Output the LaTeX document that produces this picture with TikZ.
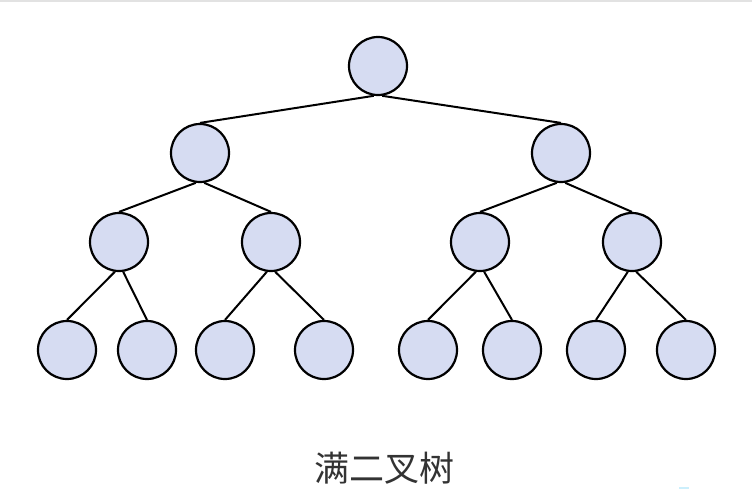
\documentclass[tikz,border=0pt]{standalone}
\usepackage{fontspec}
\newfontfamily\cjk{Noto Sans CJK SC}
\definecolor{nodefill}{RGB}{214,220,242}
\definecolor{txtgray}{RGB}{51,51,51}
\definecolor{topline}{RGB}{226,226,226}
\begin{document}
\begin{tikzpicture}[x=1pt,y=-1pt,
  tn/.style={circle,draw=black,line width=2.2pt,fill=nodefill,minimum size=58pt,inner sep=0pt},
  ed/.style={line width=2pt,black}]
\fill[white] (0,0) rectangle (752,491);
\useasboundingbox (0,0) rectangle (752,491);
\fill[topline] (0,0) rectangle (752,2);
% edges drawn first, nodes on top
\path (378,66) coordinate (pr);
% level 1
\node[tn] (r) at (378,66) {};
% level 2
\node[tn] (a) at (200,153) {};
\node[tn] (b) at (561,153) {};
% level 3
\node[tn] (a1) at (119,242) {};
\node[tn] (a2) at (271,242) {};
\node[tn] (b1) at (480,242) {};
\node[tn] (b2) at (632,242) {};
% level 4
\node[tn] (c1) at (67,350) {};
\node[tn] (c2) at (147,350) {};
\node[tn] (c3) at (225,350) {};
\node[tn] (c4) at (324,350) {};
\node[tn] (c5) at (428,350) {};
\node[tn] (c6) at (512,350) {};
\node[tn] (c7) at (596,350) {};
\node[tn] (c8) at (686,350) {};
% edges
\foreach \p/\l/\r in {r/a/b, a/a1/a2, b/b1/b2, a1/c1/c2, a2/c3/c4, b1/c5/c6, b2/c7/c8}{
  \draw[ed] (\p.-98) -- (\l.north);
  \draw[ed] (\p.-82) -- (\r.north);
}
\node[text=txtgray,font=\cjk\fontsize{35}{40}\selectfont] (cap) at (384,468) {满二叉树};
\fill[cyan!20] (679,487) rectangle (689,489);
\end{tikzpicture}
\end{document}
